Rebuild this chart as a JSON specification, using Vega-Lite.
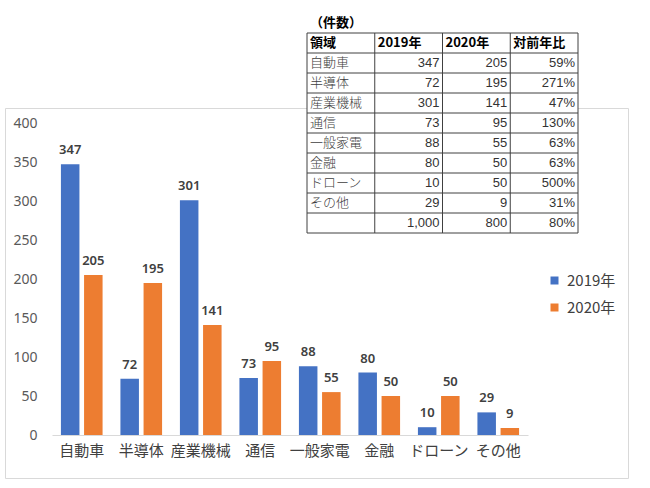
{
  "$schema": "https://vega.github.io/schema/vega-lite/v6.json",
  "width": 623,
  "height": 370,
  "autosize": {"type": "none"},
  "padding": {"left": 5, "top": 108, "right": 22, "bottom": 10},
  "background": "white",
  "config": {
    "view": {"stroke": "#D9D9D9", "strokeWidth": 1},
    "font": "Noto Sans CJK JP"
  },
  "datasets": {
    "counts": [
      {"領域": "自動車", "年": "2019年", "件数": 347},
      {"領域": "自動車", "年": "2020年", "件数": 205},
      {"領域": "半導体", "年": "2019年", "件数": 72},
      {"領域": "半導体", "年": "2020年", "件数": 195},
      {"領域": "産業機械", "年": "2019年", "件数": 301},
      {"領域": "産業機械", "年": "2020年", "件数": 141},
      {"領域": "通信", "年": "2019年", "件数": 73},
      {"領域": "通信", "年": "2020年", "件数": 95},
      {"領域": "一般家電", "年": "2019年", "件数": 88},
      {"領域": "一般家電", "年": "2020年", "件数": 55},
      {"領域": "金融", "年": "2019年", "件数": 80},
      {"領域": "金融", "年": "2020年", "件数": 50},
      {"領域": "ドローン", "年": "2019年", "件数": 10},
      {"領域": "ドローン", "年": "2020年", "件数": 50},
      {"領域": "その他", "年": "2019年", "件数": 29},
      {"領域": "その他", "年": "2020年", "件数": 9}
    ],
    "table": [
      {"r": 1, "領域": "自動車", "y2019": "347", "y2020": "205", "比": "59%"},
      {"r": 2, "領域": "半導体", "y2019": "72", "y2020": "195", "比": "271%"},
      {"r": 3, "領域": "産業機械", "y2019": "301", "y2020": "141", "比": "47%"},
      {"r": 4, "領域": "通信", "y2019": "73", "y2020": "95", "比": "130%"},
      {"r": 5, "領域": "一般家電", "y2019": "88", "y2020": "55", "比": "63%"},
      {"r": 6, "領域": "金融", "y2019": "80", "y2020": "50", "比": "63%"},
      {"r": 7, "領域": "ドローン", "y2019": "10", "y2020": "50", "比": "500%"},
      {"r": 8, "領域": "その他", "y2019": "29", "y2020": "9", "比": "31%"},
      {"r": 9, "領域": "", "y2019": "1,000", "y2020": "800", "比": "80%"}
    ],
    "header": [
      {"c": 0, "見出し": "領域"},
      {"c": 1, "見出し": "2019年"},
      {"c": 2, "見出し": "2020年"},
      {"c": 3, "見出し": "対前年比"}
    ],
    "hlines": [{"h": 0}, {"h": 1}, {"h": 2}, {"h": 3}, {"h": 4}, {"h": 5}, {"h": 6}, {"h": 7}, {"h": 8}, {"h": 9}, {"h": 10}],
    "vlines": [{"v": 0}, {"v": 1}, {"v": 2}, {"v": 3}, {"v": 4}]
  },
  "layer": [
    {
      "data": {"name": "counts"},
      "encoding": {
        "x": {
          "field": "領域",
          "type": "nominal",
          "sort": ["自動車", "半導体", "産業機械", "通信", "一般家電", "金融", "ドローン", "その他"],
          "scale": {"range": [47, 523], "paddingInner": 0.3, "paddingOuter": 0.15},
          "axis": {
            "orient": "bottom",
            "offset": -43,
            "title": null,
            "labelAngle": 0,
            "ticks": false,
            "tickSize": 0,
            "domainColor": "#D9D9D9",
            "labelPadding": 8,
            "labelFontSize": 15,
            "labelColor": "#404040",
            "labelFont": "Noto Sans CJK JP",
            "grid": false
          }
        },
        "y": {
          "field": "件数",
          "type": "quantitative",
          "scale": {"domain": [0, 400], "range": [327, 15], "nice": false},
          "axis": {
            "orient": "left",
            "offset": -47,
            "title": null,
            "values": [0, 50, 100, 150, 200, 250, 300, 350, 400],
            "ticks": false,
            "tickSize": 0,
            "domain": false,
            "grid": false,
            "labelPadding": 15,
            "labelFontSize": 14,
            "labelColor": "#595959",
            "labelFont": "Noto Sans"
          }
        },
        "xOffset": {"field": "年", "type": "nominal", "scale": {"paddingInner": 0.2}}
      },
      "layer": [
        {
          "mark": {"type": "bar"},
          "encoding": {
            "color": {
              "field": "年",
              "type": "nominal",
              "scale": {"domain": ["2019年", "2020年"], "range": ["#4472C4", "#ED7D31"]},
              "legend": {
                "title": null,
                "orient": "none",
                "legendX": 542,
                "legendY": 165,
                "symbolType": "square",
                "symbolSize": 64,
                "symbolStrokeWidth": 0,
                "labelFontSize": 15,
                "labelColor": "#404040",
                "labelFont": "Noto Sans CJK JP",
                "labelOffset": 5,
                "rowPadding": 11,
                "padding": 0
              }
            }
          }
        },
        {
          "mark": {"type": "text", "baseline": "alphabetic", "dy": -10, "fontSize": 13, "fontWeight": 600, "font": "Noto Sans"},
          "encoding": {
            "text": {"field": "件数", "type": "quantitative"},
            "color": {"value": "#404040"}
          }
        }
      ]
    },
    {
      "layer": [
        {
          "data": {"values": [{"box": "table"}]},
          "mark": {"type": "rect", "fill": "white"},
          "encoding": {
            "x": {"datum": 0, "type": "quantitative", "scale": {"domain": [0, 4], "range": [302, 573], "nice": false, "zero": false}, "axis": null},
            "x2": {"datum": 4},
            "y": {"datum": 0, "type": "quantitative", "scale": {"domain": [0, 10], "range": [-75, 125], "nice": false, "zero": false}, "axis": null},
            "y2": {"datum": 10}
          }
        },
        {
          "data": {"name": "hlines"},
          "mark": {"type": "rule", "color": "#404040", "strokeWidth": 1},
          "encoding": {
            "y": {"field": "h", "type": "quantitative", "axis": null},
            "x": {"datum": 0, "type": "quantitative", "axis": null},
            "x2": {"datum": 4}
          }
        },
        {
          "data": {"name": "vlines"},
          "mark": {"type": "rule", "color": "#404040", "strokeWidth": 1},
          "encoding": {
            "x": {"field": "v", "type": "quantitative", "axis": null},
            "y": {"datum": 0, "type": "quantitative", "axis": null},
            "y2": {"datum": 10}
          }
        },
        {
          "data": {"name": "header"},
          "mark": {"type": "text", "align": "left", "baseline": "middle", "dx": 3, "dy": 10, "fontSize": 13, "fontWeight": "bold", "color": "#000000"},
          "encoding": {
            "x": {"field": "c", "type": "quantitative", "axis": null},
            "y": {"datum": 0, "type": "quantitative", "axis": null},
            "text": {"field": "見出し"}
          }
        },
        {
          "data": {"values": [{"題": "（件数）"}]},
          "mark": {"type": "text", "align": "left", "baseline": "middle", "dx": 3, "dy": -10, "fontSize": 13, "fontWeight": "bold", "color": "#000000"},
          "encoding": {
            "x": {"datum": 0, "type": "quantitative", "axis": null},
            "y": {"datum": 0, "type": "quantitative", "axis": null},
            "text": {"field": "題"}
          }
        },
        {
          "data": {"name": "table"},
          "encoding": {
            "y": {"field": "r", "type": "quantitative", "axis": null}
          },
          "layer": [
            {
              "mark": {"type": "text", "align": "left", "baseline": "middle", "dx": 3, "dy": 10, "fontSize": 13, "color": "#404040", "fontWeight": 300},
              "encoding": {"x": {"datum": 0, "type": "quantitative", "axis": null}, "text": {"field": "領域"}}
            },
            {
              "mark": {"type": "text", "align": "right", "baseline": "middle", "dx": -3, "dy": 10, "fontSize": 13, "color": "#333333", "font": "Liberation Sans"},
              "encoding": {"x": {"datum": 2, "type": "quantitative", "axis": null}, "text": {"field": "y2019"}}
            },
            {
              "mark": {"type": "text", "align": "right", "baseline": "middle", "dx": -3, "dy": 10, "fontSize": 13, "color": "#333333", "font": "Liberation Sans"},
              "encoding": {"x": {"datum": 3, "type": "quantitative", "axis": null}, "text": {"field": "y2020"}}
            },
            {
              "mark": {"type": "text", "align": "right", "baseline": "middle", "dx": -3, "dy": 10, "fontSize": 13, "color": "#333333", "font": "Liberation Sans"},
              "encoding": {"x": {"datum": 4, "type": "quantitative", "axis": null}, "text": {"field": "比"}}
            }
          ]
        }
      ]
    }
  ],
  "resolve": {"scale": {"x": "independent", "y": "independent"}}
}
